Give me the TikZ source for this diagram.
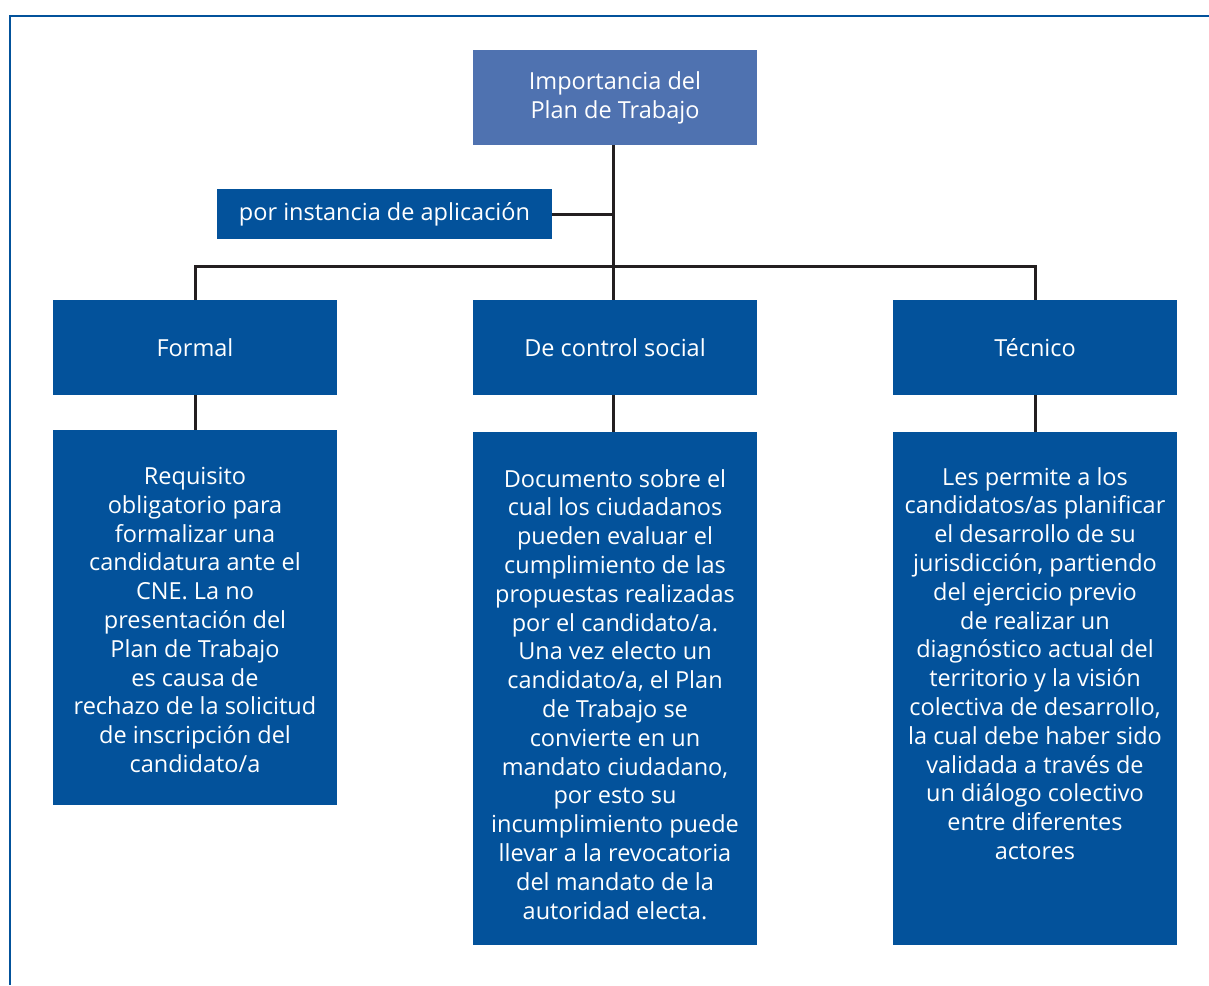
\documentclass[tikz,border=0pt]{standalone}
\usepackage{fontspec}
\setmainfont{Open Sans}
\definecolor{deepblue}{HTML}{03529B}
\definecolor{softblue}{HTML}{4F72B0}
\definecolor{linkgray}{HTML}{231F20}
\begin{document}
\begin{tikzpicture}[x=1pt,y=-1pt,
  box/.style={fill=deepblue, text=white, inner sep=0pt, align=center,
    font=\fontsize{23.5}{28.8}\selectfont},
  headbox/.style={box, fill=softblue, minimum width=284pt, minimum height=95pt},
  catbox/.style={box, minimum width=284pt, minimum height=95pt},
  tagbox/.style={box, minimum width=335pt, minimum height=50pt},
  panel/.style={fill=deepblue, minimum width=284pt, inner sep=0pt},
  link/.style={draw=linkgray, line width=3pt},
  bodytext/.style={text=white, align=center, inner sep=0pt, anchor=north,
    font=\fontsize{23.5}{28.8}\selectfont}
]
\useasboundingbox (0,0) rectangle (1209,985);
% page frame
\draw[deepblue, line width=2.8pt] (1209,16) -- (10,16) -- (10,985);

% title and tag
\node[headbox] (head) at (615,97.5) {Importancia del\\Plan de Trabajo};
\node[tagbox] (tag) at (384.5,214) {por instancia de aplicación};

% categories
\node[catbox] (formal) at (195,347.5) {Formal};
\node[catbox] (social) at (615,347.5) {De control social};
\node[catbox] (tecnico) at (1035,347.5) {Técnico};

% description panels
\node[panel, minimum height=375pt] (dformal) at (195,617.5) {};
\node[panel, minimum height=513pt] (dsocial) at (615,688.5) {};
\node[panel, minimum height=513pt] (dtecnico) at (1035,688.5) {};

\node[bodytext] (tformal) at (195,467) {Requisito\\obligatorio para\\formalizar una\\candidatura ante el\\CNE. La no\\presentación del\\Plan de Trabajo\\es causa de\\rechazo de la solicitud\\de inscripción del\\candidato/a};
\node[bodytext] (tsocial) at (615,469) {Documento sobre el\\cual los ciudadanos\\pueden evaluar el\\cumplimiento de las\\propuestas realizadas\\por el candidato/a.\\Una vez electo un\\candidato/a, el Plan\\de Trabajo se\\convierte en un\\mandato ciudadano,\\por esto su\\incumplimiento puede\\llevar a la revocatoria\\del mandato de la\\autoridad electa.};
\node[bodytext] (ttecnico) at (1035,467) {Les permite a los\\candidatos/as planificar\\el desarrollo de su\\jurisdicción, partiendo\\del ejercicio previo\\de realizar un\\diagnóstico actual del\\territorio y la visión\\colectiva de desarrollo,\\la cual debe haber sido\\validada a través de\\un diálogo colectivo\\entre diferentes\\actores};

% connectors
\coordinate (hub) at (613,214);
\coordinate (bus) at (613,266);
\draw[link] (head.south -| hub) -- (social.north -| hub);
\draw[link] (tag.east) -- (hub);
\draw[link] (formal.north) |- (bus) -| (tecnico.north);
\draw[link] (formal.south) -- (dformal.north);
\draw[link] (social.south -| hub) -- (dsocial.north -| hub);
\draw[link] (tecnico.south) -- (dtecnico.north);
\end{tikzpicture}
\end{document}
